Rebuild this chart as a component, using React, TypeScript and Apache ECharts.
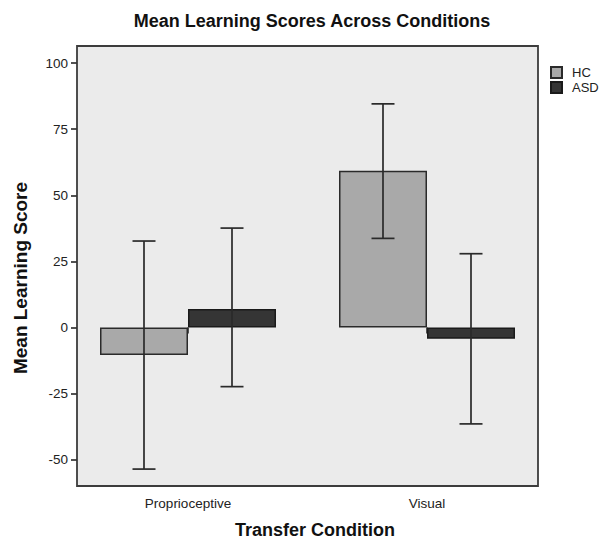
import React, { useEffect, useRef } from "react";
import * as echarts from "echarts";

const categories = ["Proprioceptive", "Visual"];
const seriesNames = ["HC", "ASD"];
const hcMeans = [-10.4, 59.3];
const asdMeans = [7.0, -4.3];
const hcLower = [-53.6, 33.7];
const hcUpper = [32.7, 84.6];
const asdLower = [-22.4, -36.5];
const asdUpper = [37.6, 27.9];
const yTicks = [-50, -25, 0, 25, 50, 75, 100];

const FONT = "'Liberation Sans', Arial, sans-serif";
const BAR_W = 88;
const Y_MIN = -60;
const Y_MAX = 106.5;

function errorSeries(name: string, lower: number[], upper: number[], offset: number) {
  return {
    name,
    type: "custom",
    xAxisIndex: 1,
    yAxisIndex: 1,
    z: 5,
    encode: { x: 0, y: [1, 2] },
    data: lower.map((lo, i) => [i, lo, upper[i]]),
    renderItem: (params: any, api: any) => {
      const cat = api.value(0);
      const pLo = api.coord([cat, api.value(1)]);
      const pHi = api.coord([cat, api.value(2)]);
      const x = pLo[0] + offset;
      const cap = 11.5;
      const style = { stroke: "#2a2a2a", lineWidth: 1.7 };
      return {
        type: "group",
        children: [
          { type: "line", shape: { x1: x, y1: pLo[1], x2: x, y2: pHi[1] }, style },
          { type: "line", shape: { x1: x - cap, y1: pLo[1], x2: x + cap, y2: pLo[1] }, style },
          { type: "line", shape: { x1: x - cap, y1: pHi[1], x2: x + cap, y2: pHi[1] }, style },
        ],
      };
    },
  };
}

export default function App() {
  const ref = useRef<HTMLDivElement>(null);
  useEffect(() => {
    if (!ref.current) return;
    const chart = echarts.init(ref.current, null, { renderer: "svg" });
    const gridTop = 46;
    const gridH = 440;
    chart.setOption({
      animation: false,
      backgroundColor: "#ffffff",
      textStyle: { fontFamily: FONT },
      graphic: [
        {
          type: "text",
          x: 312,
          y: 21,
          style: {
            text: "Mean Learning Scores Across Conditions",
            font: `bold 18px ${FONT}`,
            fill: "#111",
            textAlign: "center",
            textVerticalAlign: "middle",
          },
        },
        {
          type: "text",
          x: 20,
          y: 278,
          rotation: Math.PI / 2,
          style: {
            text: "Mean Learning Score",
            font: `bold 19px ${FONT}`,
            fill: "#111",
            textAlign: "center",
            textVerticalAlign: "middle",
          },
        },
        {
          type: "text",
          x: 315,
          y: 530,
          style: {
            text: "Transfer Condition",
            font: `bold 18px ${FONT}`,
            fill: "#111",
            textAlign: "center",
            textVerticalAlign: "middle",
          },
        },
      ],
      legend: {
        data: seriesNames,
        orient: "vertical",
        left: 545,
        top: 61,
        itemWidth: 11,
        itemHeight: 11,
        itemGap: 2,
        icon: "rect",
        textStyle: { fontSize: 13, color: "#222", fontFamily: FONT, padding: [0, 0, 0, 5] },
      },
      grid: [
        {
          left: 77,
          top: gridTop,
          width: 461,
          height: gridH,
          show: true,
          backgroundColor: "#ebebeb",
          borderColor: "#3c3c3c",
          borderWidth: 1.8,
          z: 0,
        },
        {
          left: 68.5,
          top: gridTop,
          width: 478,
          height: gridH,
          show: false,
        },
      ],
      xAxis: [
        { type: "value", gridIndex: 0, show: false, min: 0, max: 1 },
        {
          type: "category",
          gridIndex: 1,
          data: categories,
          axisLine: { show: false },
          axisTick: { show: true, alignWithLabel: true, length: 6, lineStyle: { color: "#333", width: 1.7 } },
          axisLabel: { fontSize: 13.5, color: "#222", margin: 10, fontFamily: FONT },
          splitLine: { show: false },
        },
      ],
      yAxis: [
        {
          type: "value",
          gridIndex: 0,
          min: Y_MIN,
          max: Y_MAX,
          axisLine: { show: false },
          axisTick: { show: true, length: 6, customValues: yTicks, lineStyle: { color: "#333", width: 1.7 } },
          axisLabel: { fontSize: 13.5, color: "#222", margin: 9, customValues: yTicks, fontFamily: FONT },
          splitLine: { show: false },
        },
        {
          type: "value",
          gridIndex: 1,
          min: Y_MIN,
          max: Y_MAX,
          show: false,
          splitLine: { show: false },
        },
      ],
      series: [
        {
          name: "HC",
          type: "bar",
          xAxisIndex: 1,
          yAxisIndex: 1,
          barWidth: BAR_W,
          barGap: "0%",
          data: hcMeans,
          itemStyle: { color: "#a9a9a9", borderColor: "#2a2a2a", borderWidth: 1.5 },
          z: 2,
        },
        {
          name: "ASD",
          type: "bar",
          xAxisIndex: 1,
          yAxisIndex: 1,
          barWidth: BAR_W,
          barGap: "0%",
          data: asdMeans,
          itemStyle: { color: "#353535", borderColor: "#1a1a1a", borderWidth: 1.5 },
          z: 2,
        },
        errorSeries("HC error", hcLower, hcUpper, -BAR_W / 2),
        errorSeries("ASD error", asdLower, asdUpper, BAR_W / 2),
      ],
    });
    return () => chart.dispose();
  }, []);
  return (
    <div
      ref={ref}
      style={{ position: "fixed", left: 0, top: 0, width: 607, height: 545 }}
    />
  );
}
